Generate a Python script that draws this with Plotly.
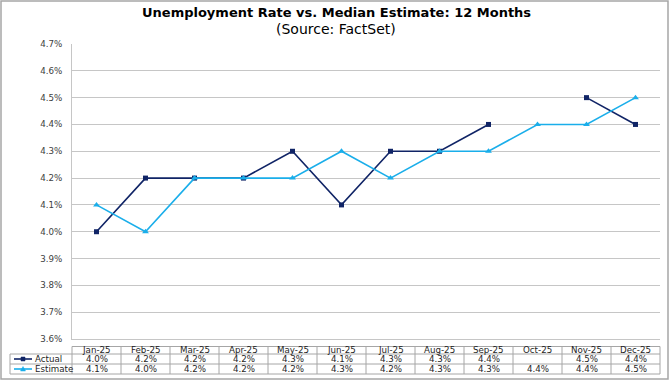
import plotly.graph_objects as go

months = ["Jan-25", "Feb-25", "Mar-25", "Apr-25", "May-25", "Jun-25",
          "Jul-25", "Aug-25", "Sep-25", "Oct-25", "Nov-25", "Dec-25"]
actual = [4.0, 4.2, 4.2, 4.2, 4.3, 4.1, 4.3, 4.3, 4.4, None, 4.5, 4.4]
estimate = [4.1, 4.0, 4.2, 4.2, 4.2, 4.3, 4.2, 4.3, 4.3, 4.4, 4.4, 4.5]
series_names = ["Actual", "Estimate"]
y_ticks = [3.6, 3.7, 3.8, 3.9, 4.0, 4.1, 4.2, 4.3, 4.4, 4.5, 4.6, 4.7]

W, H = 672, 384
ML, MR, MT, MB = 72, 12, 44, 45
PW, PH = W - ML - MR, H - MT - MB

NAVY = "#102466"
CYAN = "#1aaeea"
GRID = "#c6c6c6"
BORDER = "#a6a6a6"
TXT = "#1e1e1e"
FONT = "DejaVu Sans, Verdana, sans-serif"


def px(x):
    return (x - ML) / PW


def py(y):
    return (H - MB - y) / PH


fig = go.Figure()
fig.add_trace(go.Scatter(
    x=list(range(len(months))), y=actual, name="Actual", mode="lines+markers",
    line=dict(color=NAVY, width=1.6), marker=dict(symbol="square", size=5, color=NAVY),
    connectgaps=False, hoverinfo="skip"))
fig.add_trace(go.Scatter(
    x=list(range(len(months))), y=estimate, name="Estimate", mode="lines+markers",
    line=dict(color=CYAN, width=1.6), marker=dict(symbol="triangle-up", size=6, color=CYAN),
    hoverinfo="skip"))

shapes = []
annotations = []

# outer border
shapes.append(dict(type="rect", xref="paper", yref="paper",
                   x0=px(1), x1=px(668), y0=py(379), y1=py(1),
                   line=dict(color=BORDER, width=1.5), fillcolor="rgba(0,0,0,0)", layer="below"))

# data table
top, r1, r2, r3 = py(346.5), py(354), py(364), py(374)
leg_left = px(10)
n = len(months)
shapes.append(dict(type="line", xref="paper", yref="paper", x0=0, x1=1, y0=top, y1=top,
                   line=dict(color=BORDER, width=1)))
for yy in (r1, r2, r3):
    shapes.append(dict(type="line", xref="paper", yref="paper", x0=leg_left, x1=1, y0=yy, y1=yy,
                       line=dict(color=BORDER, width=1)))
for i in range(n + 1):
    shapes.append(dict(type="line", xref="paper", yref="paper", x0=i / n, x1=i / n, y0=top, y1=r3,
                       line=dict(color=BORDER, width=1)))
shapes.append(dict(type="line", xref="paper", yref="paper", x0=leg_left, x1=leg_left, y0=r1, y1=r3,
                   line=dict(color=BORDER, width=1)))

cell_font = dict(family=FONT, size=8.7, color=TXT)
row_centers = [(top + r1) / 2, (r1 + r2) / 2, (r2 + r3) / 2]
for i, m in enumerate(months):
    annotations.append(dict(x=i, y=row_centers[0], xref="x", yref="paper", text=m,
                            showarrow=False, font=cell_font, yanchor="middle"))
    for vals, yc in ((actual, row_centers[1]), (estimate, row_centers[2])):
        v = vals[i]
        annotations.append(dict(x=i, y=yc, xref="x", yref="paper",
                                text="" if v is None else f"{v:.1f}%",
                                showarrow=False, font=cell_font, yanchor="middle"))

for name, color, sym, yc in ((series_names[0], NAVY, "sq", row_centers[1]),
                             (series_names[1], CYAN, "tri", row_centers[2])):
    shapes.append(dict(type="line", xref="paper", yref="paper", x0=px(14), x1=px(32), y0=yc, y1=yc,
                       line=dict(color=color, width=1.6)))
    if sym == "sq":
        shapes.append(dict(type="rect", xref="paper", yref="paper",
                           x0=px(21), x1=px(25), y0=yc - 2 / PH, y1=yc + 2 / PH,
                           line=dict(color=color, width=0.5), fillcolor=color))
    else:
        path = (f"M {px(20.5)} {yc - 2 / PH} L {px(25.5)} {yc - 2 / PH} "
                f"L {px(23)} {yc + 2.5 / PH} Z")
        shapes.append(dict(type="path", xref="paper", yref="paper", path=path,
                           line=dict(color=color, width=0.5), fillcolor=color))
    annotations.append(dict(x=px(33), y=yc, xref="paper", yref="paper", text=name,
                            showarrow=False, font=cell_font, xanchor="left", yanchor="middle"))

annotations.append(dict(x=px(336), xref="paper", xanchor="center", y=py(12.5), yref="paper", yanchor="middle",
                        text="<b>Unemployment Rate vs. Median Estimate: 12 Months</b>", showarrow=False,
                        font=dict(family=FONT, size=13, color="#000000")))
annotations.append(dict(x=px(336), xref="paper", xanchor="center", y=py(29), yref="paper", yanchor="middle",
                        text="(Source: FactSet)", showarrow=False,
                        font=dict(family=FONT, size=14, color="#000000")))

fig.update_layout(
    width=W, height=H,
    margin=dict(l=ML, r=MR, t=MT, b=MB),
    paper_bgcolor="white", plot_bgcolor="white",
    showlegend=False, hovermode=False,
    shapes=shapes, annotations=annotations,
    xaxis=dict(range=[-0.5, n - 0.5], showgrid=False, showticklabels=False, zeroline=False,
               showline=True, linecolor=GRID, linewidth=1, ticks=""),
    yaxis=dict(range=[3.6, 4.7], tickvals=y_ticks, ticktext=[f"{v:.1f}%" for v in y_ticks],
               showgrid=True, gridcolor=GRID, gridwidth=1, zeroline=False,
               showline=True, linecolor=GRID, linewidth=1, ticks="",
               ticklabelstandoff=7,
               tickfont=dict(family=FONT, size=8.7, color="#404040")),
)

fig.write_html("out.html", config={"displayModeBar": False},
               post_script="document.body.style.margin='0px';")
